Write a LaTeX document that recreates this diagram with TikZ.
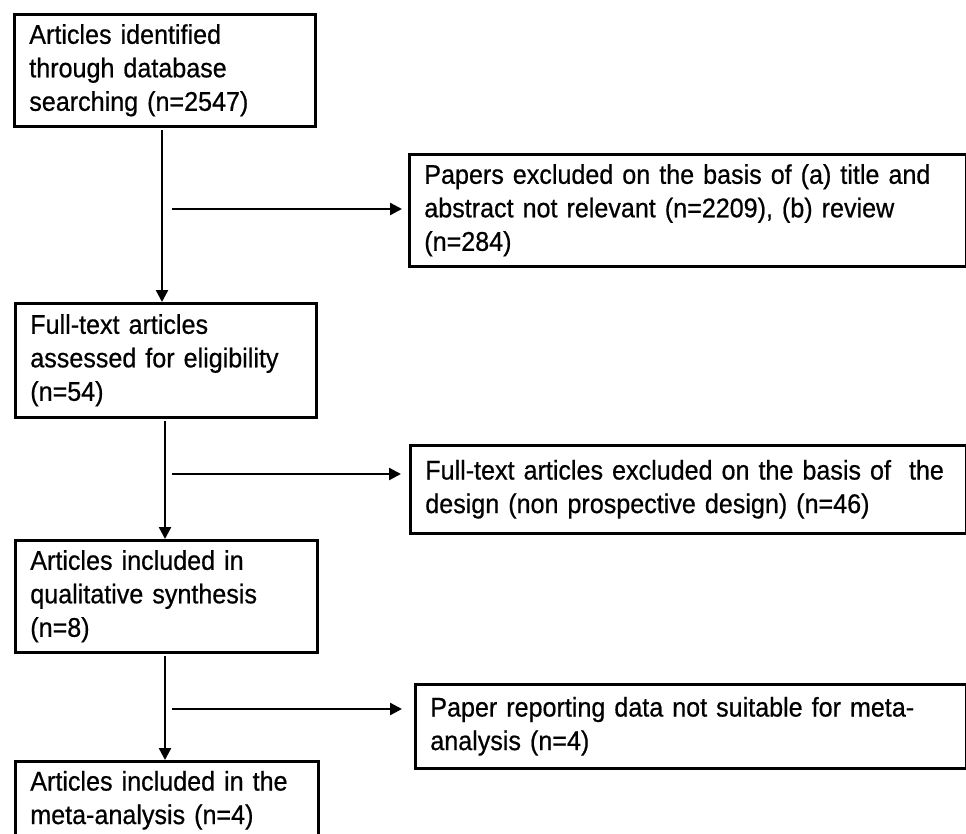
\documentclass[tikz,border=0pt]{standalone}
\usepackage{fontspec}
\setmainfont[FakeStretch=0.93,FakeBold=0.6]{Liberation Sans}
\usetikzlibrary{arrows.meta}
\begin{document}
\begin{tikzpicture}[x=1pt,y=-1pt,
  box/.style={draw=black,line width=2.6pt,anchor=north west,inner xsep=15pt,inner ysep=0pt,
    align=left,font=\fontsize{27}{33.5}\selectfont},
  conn/.style={draw=black,line width=2.4pt,-{Triangle[length=12pt,width=12pt]}}]
\useasboundingbox (0,0) rectangle (966,833);
\node[box,minimum width=301pt,minimum height=112pt,text width=271pt] (b1) at (13,13)
  {Articles identified\\through database\\searching (n=2547)};
\node[box,minimum width=557pt,minimum height=112pt,text width=527pt] (b2) at (408,153)
  {Papers excluded on the basis of (a) title and\\abstract not relevant (n=2209), (b) review\\(n=284)};
\node[box,minimum width=301pt,minimum height=114pt,text width=271pt] (b3) at (14,302)
  {Full-text articles\\assessed for eligibility\\(n=54)};
\node[box,minimum width=556pt,minimum height=88pt,text width=526pt] (b4) at (409,444)
  {Full-text articles excluded on the basis of\ \ the\\design (non prospective design) (n=46)};
\node[box,minimum width=302pt,minimum height=112pt,text width=272pt] (b5) at (14,539)
  {Articles included in\\qualitative synthesis\\(n=8)};
\node[box,minimum width=551pt,minimum height=84pt,text width=521pt] (b6) at (414,683)
  {Paper reporting data not suitable for meta-\\analysis (n=4)};
\node[box,minimum width=303pt,minimum height=78pt,text width=273pt] (b7) at (14,760)
  {Articles included in the\\meta-analysis (n=4)};
\coordinate (s1) at (162,130);
\coordinate (s2) at (165,421);
\coordinate (s3) at (165,656);
\draw[conn] (s1) -- (s1 |- b3.north);
\draw[conn] (s2) -- (s2 |- b5.north);
\draw[conn] (s3) -- (s3 |- b7.north);
\coordinate (a1) at (172,209);
\coordinate (a2) at (172,474);
\coordinate (a3) at (172,709);
\draw[conn] (a1) -- ([xshift=-6pt]a1 -| b2.west);
\draw[conn] (a2) -- ([xshift=-8pt]a2 -| b4.west);
\draw[conn] (a3) -- ([xshift=-12pt]a3 -| b6.west);
\end{tikzpicture}
\end{document}
